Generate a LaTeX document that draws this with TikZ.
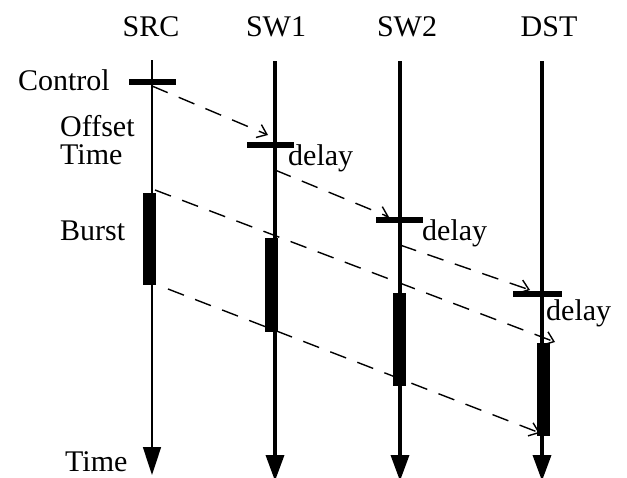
\documentclass[tikz,border=0pt]{standalone}
\usepackage{fontspec}
\setmainfont{Liberation Serif}
\usetikzlibrary{arrows.meta}

\begin{document}
\begin{tikzpicture}[
    x=1pt, y=-1pt,
    lbl/.style={inner sep=0pt, font=\fontsize{30}{34}\selectfont},
    timeline/.style={line width=3.5pt, -{Triangle[length=26pt,width=18pt]}},
    srcline/.style={line width=1.6pt, -{Triangle[length=28pt,width=18pt]}},
    ctrlbar/.style={rectangle, fill=black, inner sep=0pt, minimum width=47pt, minimum height=6pt},
    burst/.style={rectangle, fill=black, inner sep=0pt, minimum width=13pt, minimum height=93pt},
    msg/.style={line width=1.4pt, dash pattern=on 17pt off 12pt, -{Straight Barb[length=9pt,width=14pt]}},
]
\useasboundingbox (0,0) rectangle (627,477);

% Column heads
\node[lbl, anchor=base] (src) at (151,36) {SRC};
\node[lbl, anchor=base] (sw1) at (276,36) {SW1};
\node[lbl, anchor=base] (sw2) at (407,36) {SW2};
\node[lbl, anchor=base] (dst) at (549,36) {DST};

% Time lines
\coordinate (srctop) at (152,60);
\coordinate (srcend) at (152,475);
\coordinate (sw1top) at (275,61);
\coordinate (sw1end) at (275,481);
\coordinate (sw2top) at (400,61);
\coordinate (sw2end) at (400,481);
\coordinate (dsttop) at (542,61);
\coordinate (dstend) at (542,481);
\draw[srcline] (srctop) -- (srcend);
\draw[timeline] (sw1top) -- (sw1end);
\draw[timeline] (sw2top) -- (sw2end);
\draw[timeline] (dsttop) -- (dstend);

% Left labels
\node[lbl, anchor=base east] (control) at (110,90) {Control};
\node[lbl, anchor=base west] (offset) at (60,136) {Offset};
\node[lbl, anchor=base west] (offtime) at (60,164) {Time};
\node[lbl, anchor=base west] (burstlbl) at (60,240) {Burst};
\node[lbl, anchor=base west] (timelbl) at (65,471) {Time};

% Control packets
\node[ctrlbar] (c0) at (152.5,82) {};
\node[ctrlbar] (c1) at (270,144.5) {};
\node[ctrlbar] (c2) at (399,220) {};
\node[ctrlbar, minimum width=49pt] (c3) at (537.5,294) {};

% Delay labels
\node[lbl, anchor=base west] (delay1) at (288,165) {delay};
\node[lbl, anchor=base west] (delay2) at (422,240) {delay};
\node[lbl, anchor=base west] (delay3) at (546,320) {delay};

% Bursts
\node[burst, minimum height=92pt] (b0) at (149.5,239) {};
\node[burst, minimum height=94pt] (b1) at (271.5,285) {};
\node[burst] (b2) at (399.5,339.5) {};
\node[burst] (b3) at (543.5,389.5) {};

% Control messages
\coordinate (c0out) at (152,86);
\coordinate (c1in) at (268,135);
\coordinate (c1out) at (275,170);
\coordinate (c2in) at (389,217);
\coordinate (c2out) at (400,245);
\coordinate (c3in) at (530,290);
\draw[msg] (c0out) -- (c1in);
\draw[msg] (c1out) -- (c2in);
\draw[msg] (c2out) -- (c3in);

% Burst edges
\coordinate (b0head) at (155,190);
\coordinate (b3head) at (555,342);
\coordinate (b0tail) at (168,289);
\coordinate (b3tail) at (540,433);
\draw[msg] (b0head) -- (b3head);
\draw[msg] (b0tail) -- (b3tail);
\end{tikzpicture}
\end{document}
